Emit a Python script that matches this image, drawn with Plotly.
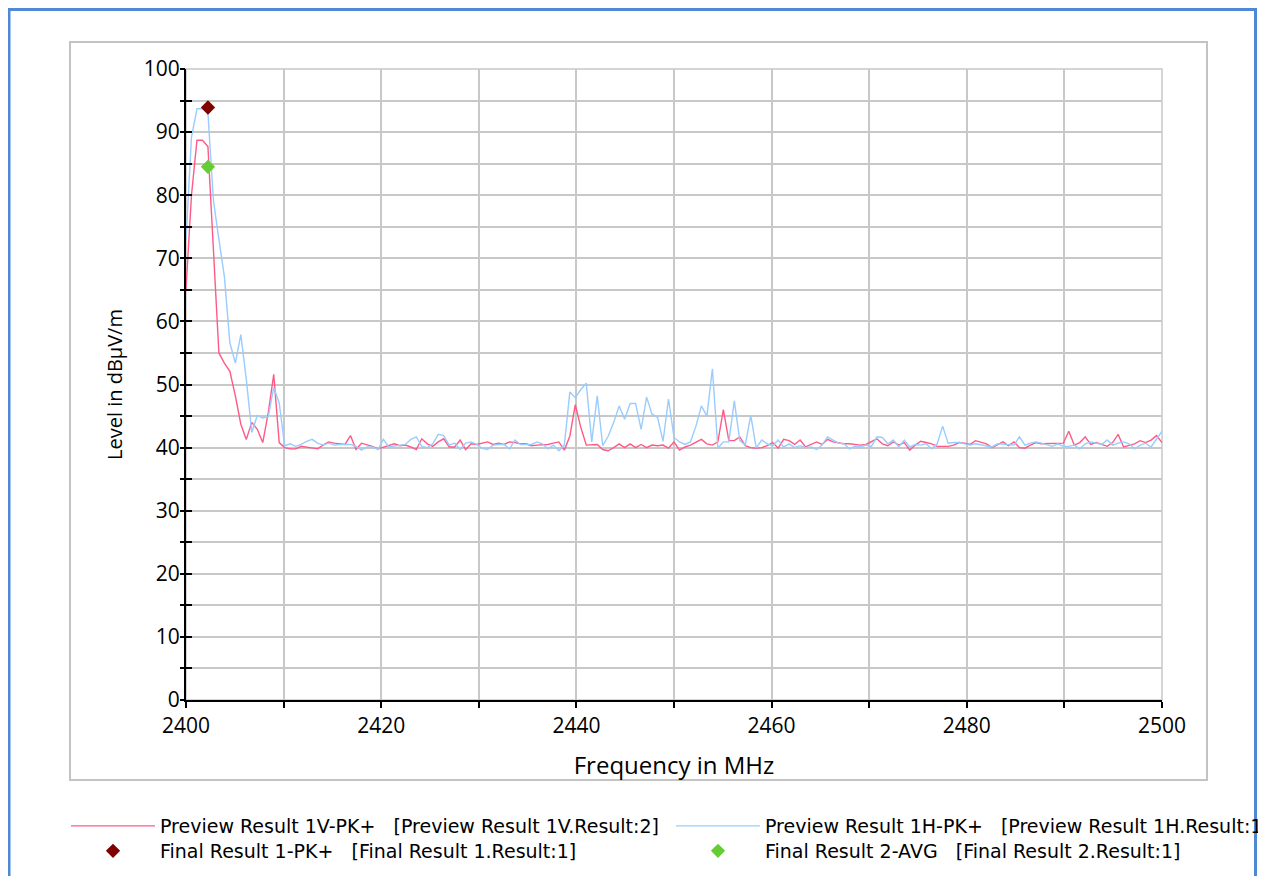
import numpy as np
import plotly.graph_objects as go

# ---------------- data ----------------
F_START, F_STOP, N_POINTS = 2400.0, 2500.0, 179
freq_mhz = np.linspace(F_START, F_STOP, N_POINTS)

preview_1v_pk = [
    65.1, 80.0, 88.7, 88.7, 87.7, 72.0, 55.0, 53.4, 52.1, 48.2,
    43.7, 41.3, 44.0, 42.9, 40.8, 45.5, 51.6, 40.8, 40.0, 39.8,
    39.8, 40.2, 40.1, 39.9, 39.8, 40.4, 40.9, 40.7, 40.6, 40.5,
    41.9, 39.7, 40.7, 40.5, 40.2, 39.8, 40.1, 40.4, 40.6, 40.3,
    40.4, 40.1, 39.7, 41.4, 40.6, 40.2, 40.9, 41.4, 40.1, 40.1,
    41.2, 39.7, 40.6, 40.5, 40.7, 40.9, 40.5, 40.7, 40.5, 40.9,
    40.8, 40.6, 40.6, 40.3, 40.4, 40.4, 40.5, 40.7, 40.9, 39.6,
    41.8, 46.8, 43.2, 40.4, 40.4, 40.5, 39.7, 39.5, 40.0, 40.6,
    40.0, 40.6, 40.0, 40.5, 40.0, 40.4, 40.3, 40.4, 39.9, 40.9,
    39.6, 40.1, 40.4, 40.8, 41.3, 40.6, 40.4, 40.9, 46.0, 41.1,
    41.1, 41.7, 40.3, 40.0, 39.9, 40.0, 40.3, 40.8, 39.9, 41.3,
    41.1, 40.5, 41.2, 40.1, 40.5, 40.9, 40.5, 41.3, 40.9, 40.7,
    40.6, 40.6, 40.5, 40.4, 40.5, 40.9, 41.4, 40.6, 40.3, 40.9,
    40.4, 40.8, 39.6, 40.4, 41.0, 40.8, 40.6, 40.2, 40.2, 40.2,
    40.4, 40.8, 40.7, 40.5, 41.1, 40.8, 40.6, 40.0, 40.5, 40.9,
    40.3, 40.9, 40.0, 39.9, 40.4, 40.8, 40.6, 40.6, 40.6, 40.6,
    40.7, 42.6, 40.4, 40.8, 41.7, 40.5, 40.8, 40.5, 40.2, 40.8,
    42.1, 40.1, 40.4, 40.6, 41.1, 40.8, 41.2, 41.9, 40.8,
]

preview_1h_pk = [
    72.9, 89.2, 93.7, 93.7, 93.0, 79.2, 73.0, 67.1, 56.6, 53.4,
    57.9, 50.8, 42.4, 45.1, 44.7, 44.9, 49.5, 47.1, 40.3, 40.6,
    40.2, 40.5, 41.0, 41.3, 40.7, 40.4, 40.7, 40.4, 40.5, 40.5,
    40.5, 40.2, 39.6, 40.1, 40.1, 39.7, 41.3, 40.1, 40.2, 40.3,
    40.5, 41.3, 41.7, 40.2, 40.0, 40.6, 42.1, 41.9, 40.4, 40.7,
    39.7, 40.7, 40.9, 40.5, 39.9, 39.7, 40.4, 40.5, 40.5, 39.8,
    41.2, 40.5, 40.5, 40.5, 40.9, 40.6, 39.8, 40.4, 39.5, 40.4,
    48.8, 47.9, 49.2, 50.2, 40.9, 48.2, 40.3, 41.8, 44.0, 46.6,
    44.5, 47.0, 47.0, 42.9, 48.0, 45.3, 44.8, 41.0, 47.7, 41.6,
    40.9, 40.5, 40.9, 43.4, 46.6, 45.0, 52.5, 39.9, 40.9, 40.9,
    47.4, 41.1, 40.4, 45.1, 39.9, 41.2, 40.6, 40.3, 41.2, 40.1,
    40.6, 40.0, 40.3, 40.0, 40.1, 39.7, 40.4, 41.7, 41.2, 40.7,
    40.6, 39.8, 40.2, 40.1, 40.4, 40.2, 41.7, 41.6, 40.6, 41.2,
    40.1, 41.2, 40.1, 40.5, 40.4, 40.6, 39.8, 40.6, 43.4, 40.7,
    40.8, 40.8, 40.6, 40.4, 40.6, 40.4, 40.2, 40.1, 40.6, 40.5,
    40.4, 40.4, 41.7, 40.4, 40.7, 40.9, 40.7, 40.4, 40.2, 40.6,
    40.2, 40.2, 40.4, 39.8, 40.6, 40.9, 40.7, 40.5, 41.2, 40.4,
    40.7, 40.9, 40.6, 39.8, 40.4, 40.7, 40.1, 41.4, 42.6,
]

final_pk_freq = [2402.25]
final_pk_level = [93.9]
final_avg_freq = [2402.25]
final_avg_level = [84.5]

x_tick_vals = [2400, 2410, 2420, 2430, 2440, 2450, 2460, 2470, 2480, 2490, 2500]
x_tick_text = ["2400", "", "2420", "", "2440", "", "2460", "", "2480", "", "2500"]
y_tick_vals = [0, 10, 20, 30, 40, 50, 60, 70, 80, 90, 100]

NBSP = "\u00a0"
name_1v = "Preview Result 1V-PK+" + NBSP * 3 + "[Preview Result 1V.Result:2]"
name_1h = "Preview Result 1H-PK+" + NBSP * 3 + "[Preview Result 1H.Result:1]"
name_f1 = "Final Result 1-PK+" + NBSP * 3 + "[Final Result 1.Result:1]"
name_f2 = "Final Result 2-AVG" + NBSP * 3 + "[Final Result 2.Result:1]"

# ---------------- layout geometry ----------------
W, H = 1266, 876
OFF = 8  # page offset of the figure (body margin)
ML, MR, MT, MB = 178, 112, 61, 184
PW, PH = W - ML - MR, H - MT - MB


def px(page_x):
    return (page_x - OFF - ML) / PW


def py(page_y):
    return (H - MB - (page_y - OFF)) / PH


RED = "#ff5a87"
BLUE = "#99ccff"
GRID = "#c8c8c8"
FRAME = "#4f88d3"
FONT = "Open Sans"
LFONT = dict(family="DejaVu Sans", size=19, color="black")

fig = go.Figure()
fig.add_trace(go.Scatter(x=freq_mhz, y=preview_1v_pk, mode="lines", name=name_1v,
                         line=dict(color=RED, width=1.4), legend="legend"))
fig.add_trace(go.Scatter(x=freq_mhz, y=preview_1h_pk, mode="lines", name=name_1h,
                         line=dict(color=BLUE, width=1.4), legend="legend2"))
fig.add_trace(go.Scatter(x=final_pk_freq, y=final_pk_level, mode="markers", name=name_f1,
                         marker=dict(symbol="diamond", color="#800000", size=11), legend="legend3"))
fig.add_trace(go.Scatter(x=final_avg_freq, y=final_avg_level, mode="markers", name=name_f2,
                         marker=dict(symbol="diamond", color="#66cc33", size=11), legend="legend4",
                         yaxis="y2"))

axis_common = dict(showgrid=True, gridcolor=GRID, gridwidth=1.5, zeroline=False,
                   showline=True, linecolor="black", linewidth=2,
                   tickcolor="black", tickwidth=1.5,
                   tickfont=dict(family=FONT, size=21, color="black"))


def legend_box(page_x, page_y):
    return dict(x=px(page_x), y=py(page_y), xanchor="left", yanchor="top", orientation="v",
                itemwidth=84, font=LFONT, bgcolor="rgba(0,0,0,0)", borderwidth=0)


COL1_X, COL2_X = 66, 671
ROW1_Y, ROW2_Y = 807, 832

fig.update_layout(
    width=W, height=H,
    paper_bgcolor="white", plot_bgcolor="white",
    margin=dict(l=ML, r=MR, t=MT, b=MB, autoexpand=False),
    xaxis=dict(range=[2400, 2500], tickmode="array", tickvals=x_tick_vals, ticktext=x_tick_text,
               ticks="outside", ticklen=6,
               title=dict(text="Frequency in MHz", font=dict(family=FONT, size=24, color="black"),
                          standoff=19),
               **axis_common),
    yaxis=dict(range=[0, 100], tickmode="array", tickvals=y_tick_vals,
               ticks="inside", ticklen=6,
               minor=dict(dtick=5, tick0=0, showgrid=True, gridcolor=GRID, gridwidth=1.5,
                          ticks="inside", ticklen=6, tickcolor="black", tickwidth=1.5),
               title=dict(text="Level in dBµV/m", font=dict(family=FONT, size=20, color="black"),
                          standoff=16),
               **axis_common),
    yaxis2=dict(range=[0, 100], overlaying="y", side="left", anchor="x",
                showgrid=False, zeroline=False, showline=False, showticklabels=False,
                tickmode="array", tickvals=y_tick_vals, ticks="outside", ticklen=4,
                tickcolor="black", tickwidth=1.5,
                minor=dict(dtick=5, tick0=0, ticks="outside", ticklen=5, tickcolor="black",
                           tickwidth=1.5, showgrid=False)),
    legend=legend_box(COL1_X, ROW1_Y),
    legend2=legend_box(COL2_X, ROW1_Y),
    legend3=legend_box(COL1_X, ROW2_Y),
    legend4=legend_box(COL2_X, ROW2_Y),
    showlegend=True,
    shapes=[
        dict(type="rect", xref="x domain", yref="y domain", x0=0, x1=1, y0=0, y1=1,
             line=dict(color=GRID, width=1.5), layer="below"),
        dict(type="rect", xref="paper", yref="paper", x0=px(70), x1=px(1207),
             y0=py(780), y1=py(42), line=dict(color="#c3c3c3", width=2), layer="below"),
        dict(type="line", xref="paper", yref="paper", x0=px(9), x1=px(9),
             y0=py(8), y1=py(H + 20), line=dict(color=FRAME, width=3)),
        dict(type="line", xref="paper", yref="paper", x0=px(7.5), x1=px(1257),
             y0=py(9.5), y1=py(9.5), line=dict(color=FRAME, width=3)),
        dict(type="line", xref="paper", yref="paper", x0=px(1255.5), x1=px(1255.5),
             y0=py(8), y1=py(H + 20), line=dict(color=FRAME, width=3)),
    ],
)

fig.write_html("out.html")
